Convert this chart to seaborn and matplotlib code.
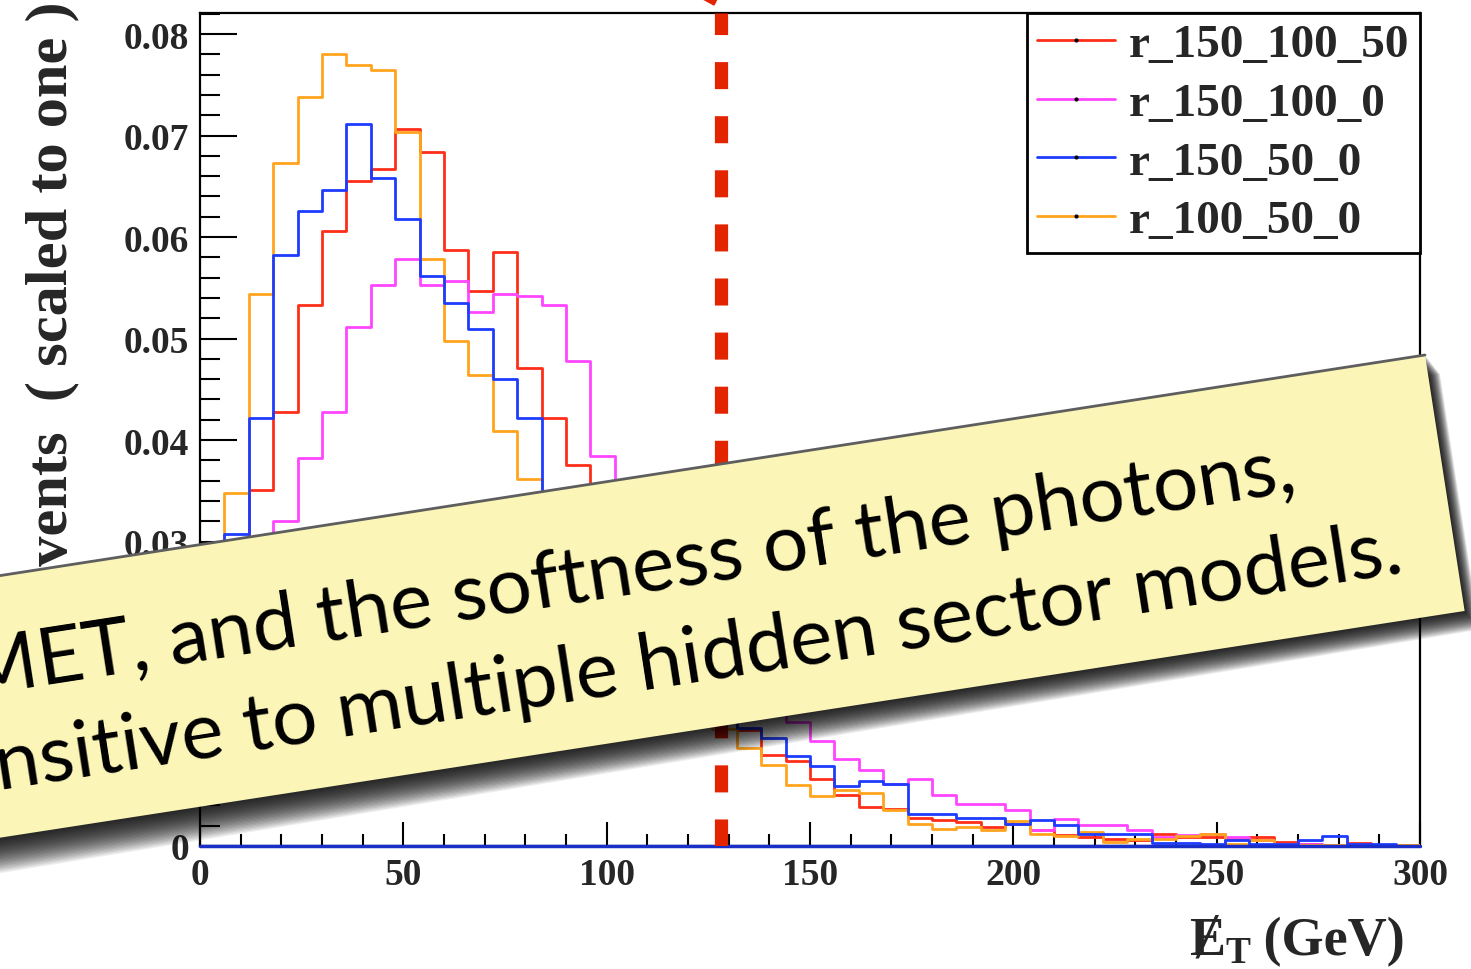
import numpy as np
import matplotlib
matplotlib.use("Agg")
import matplotlib.pyplot as plt
import seaborn as sns
from matplotlib.patches import Polygon
from matplotlib.lines import Line2D
from matplotlib.ticker import MultipleLocator, FuncFormatter

# MET histograms, 6 GeV bins from 0 to 300 GeV, normalised to one
bin_edges = list(range(0, 301, 6))

r_150_100_50 = [0.006, 0.022, 0.0351, 0.0428, 0.0533, 0.0606, 0.0655, 0.0667, 0.0706, 0.0684,
                0.0587, 0.0547, 0.0585, 0.0471, 0.0422, 0.0375, 0.032, 0.027, 0.023, 0.020,
                0.017, 0.014, 0.0114, 0.0090, 0.0084, 0.0066, 0.0050, 0.0038, 0.0036, 0.0028,
                0.0026, 0.0024, 0.0019, 0.0022, 0.0016, 0.0011, 0.0009, 0.0007, 0.0006, 0.0012,
                0.0009, 0.0009, 0.0007, 0.0009, 0.0004, 0.0002, 0.0001, 0.0003, 0.0, 0.0001]
r_150_100_0 = [0.005, 0.014, 0.024, 0.0320, 0.0382, 0.0428, 0.0511, 0.0553, 0.0578, 0.0553,
               0.0557, 0.0526, 0.0544, 0.0542, 0.0533, 0.0478, 0.0384, 0.033, 0.029, 0.025,
               0.021, 0.018, 0.015, 0.0135, 0.0122, 0.0103, 0.0086, 0.0075, 0.0061, 0.0066,
               0.0050, 0.0041, 0.0041, 0.0035, 0.0016, 0.0027, 0.0021, 0.0021, 0.0016, 0.0009,
               0.0011, 0.0012, 0.0009, 0.0006, 0.0002, 0.0002, 0.0001, 0.0001, 0.0, 0.0]
r_150_50_0 = [0.008, 0.0307, 0.0422, 0.0582, 0.0626, 0.0646, 0.0711, 0.0658, 0.0618, 0.0562,
              0.0535, 0.0509, 0.0460, 0.0422, 0.034, 0.030, 0.026, 0.022, 0.019, 0.017,
              0.015, 0.013, 0.0116, 0.0106, 0.0089, 0.0079, 0.0059, 0.0064, 0.0061, 0.0032,
              0.0032, 0.0028, 0.0028, 0.0022, 0.0026, 0.0021, 0.0012, 0.0012, 0.0012, 0.0003,
              0.0003, 0.0002, 0.0006, 0.0002, 0.0002, 0.0006, 0.0010, 0.0002, 0.0002, 0.0]
r_100_50_0 = [0.010, 0.0348, 0.0544, 0.0673, 0.0738, 0.0780, 0.0769, 0.0765, 0.0703, 0.0578,
              0.0498, 0.0464, 0.0409, 0.0362, 0.031, 0.027, 0.024, 0.020, 0.017, 0.015,
              0.013, 0.0115, 0.0097, 0.0080, 0.0060, 0.0049, 0.0055, 0.0052, 0.0035, 0.0022,
              0.0017, 0.0019, 0.0016, 0.0025, 0.0012, 0.0010, 0.0014, 0.0004, 0.0007, 0.0007,
              0.0010, 0.0012, 0.0002, 0.0006, 0.0002, 0.0001, 0.0001, 0.0001, 0.0, 0.00005]

series_names = ["r_150_100_50", "r_150_100_0", "r_150_50_0", "r_100_50_0"]
series_values = [r_150_100_50, r_150_100_0, r_150_50_0, r_100_50_0]
series_colors = ["#ff2e18", "#ff45ff", "#1d3cff", "#ffa41c"]

met_cut = 128
x_label = " (GeV)"
y_label = "Events  ( scaled to one )"
caption_lines = ["MET, and the softness of the photons,",
                 "nsitive to multiple hidden sector models."]

W, H = 1471, 970

sns.set_style("ticks")
plt.rcParams["font.family"] = ["Liberation Serif", "DejaVu Serif"]
plt.rcParams["font.weight"] = "bold"

fig = plt.figure(figsize=(W / 100, H / 100), dpi=100)
fig.patch.set_facecolor("white")
ax = fig.add_axes([200 / W, 1 - 847 / H, 1220 / W, 833 / H])
ax.set_facecolor("white")

centers = [(a + b) / 2 for a, b in zip(bin_edges[:-1], bin_edges[1:])]
# blue is drawn last so it sits on top, like in the original canvas
for i in [0, 1, 3, 2]:
    sns.histplot(x=centers, weights=series_values[i], bins=bin_edges, element="step",
                 fill=False, color=series_colors[i], linewidth=2, ax=ax, zorder=3)

ax.axhline(0, color="#1a2fc8", lw=2.5, clip_on=False, zorder=4)
ax.axvline(met_cut, color="#e32400", lw=9.5, dashes=(2.05, 2.05), zorder=5)

ax.set_xlim(0, 300)
ax.set_ylim(0, 0.08207)
ax.set_xlabel("")
ax.set_ylabel("")

for side in ["top", "bottom", "left", "right"]:
    ax.spines[side].set_visible(True)
    ax.spines[side].set_linewidth(1.6)
    ax.spines[side].set_color("black")

ax.xaxis.set_major_locator(MultipleLocator(50))
ax.xaxis.set_minor_locator(MultipleLocator(10))
ax.yaxis.set_major_locator(MultipleLocator(0.01))
ax.yaxis.set_minor_locator(MultipleLocator(0.002))
ax.yaxis.set_major_formatter(FuncFormatter(lambda v, p: "0" if abs(v) < 1e-9 else f"{v:.2f}"))
ax.xaxis.set_major_formatter(FuncFormatter(lambda v, p: f"{v:.0f}"))

ax.tick_params(axis="both", which="both", direction="in", width=1.5, color="black",
               top=False, right=False)
ax.tick_params(axis="y", which="major", length=26.5, pad=8)
ax.tick_params(axis="y", which="minor", length=14.5)
ax.tick_params(axis="x", which="major", length=17, pad=8)
ax.tick_params(axis="x", which="minor", length=9)
for lab in ax.get_xticklabels() + ax.get_yticklabels():
    lab.set_fontsize(27)
    lab.set_fontweight("bold")

handles = [Line2D([], [], color=c, lw=2, marker="o", markersize=2,
                  markerfacecolor="black", markeredgecolor="black") for c in series_colors]
leg = ax.legend(handles, series_names, loc="upper right", bbox_to_anchor=(1, 1),
                borderaxespad=0, frameon=True, fancybox=False, framealpha=1,
                edgecolor="black", handlelength=1.65, handletextpad=0.3,
                borderpad=0.22, labelspacing=0.33, numpoints=1,
                prop={"family": "Liberation Serif", "weight": "bold", "size": 34})
leg.get_frame().set_linewidth(2)
leg.set_zorder(10)

# axis titles, ROOT style
fig.text(66 / W, 1 - 1 / H, y_label, rotation=90, rotation_mode="anchor",
         ha="right", va="baseline", fontsize=43.5, fontweight="bold", zorder=3)

renderer = fig.canvas.get_renderer()
def width_px(s, **kw):
    t = fig.text(0, 0, s, **kw)
    w = t.get_window_extent(renderer=renderer).width
    t.remove()
    return w

xl_kw = dict(fontsize=39, fontweight="bold", family=["Liberation Serif", "DejaVu Serif"])
sub_kw = dict(fontsize=27, fontweight="bold", family=["Liberation Serif", "DejaVu Serif"])
x_right, x_base = 1405, 955
fig.text(x_right / W, 1 - x_base / H, x_label, ha="right", va="baseline", **xl_kw)
x_right -= width_px(x_label, **xl_kw)
fig.text(x_right / W, 1 - (x_base + 8) / H, "T", ha="right", va="baseline", **sub_kw)
x_right -= width_px("T", **sub_kw)
fig.text(x_right / W, 1 - x_base / H, "\u0246", ha="right", va="baseline", **xl_kw)

# tip of the red arrow that comes in from above the slide
fig.add_artist(Polygon([(703 / W, 1.0), (717 / W, 1.0), (714 / W, 1 - 6 / H)],
                       closed=True, transform=fig.transFigure, color="#e32400", zorder=6))

# yellow slide banner laid over the plot
theta = np.deg2rad(8.8)
u = np.array([np.cos(theta), -np.sin(theta)])
n = np.array([np.sin(theta), np.cos(theta)])
tr = np.array([1425.0, 356.0])
tl = tr - 1800.0 * u
br = tr + 259.0 * n
bl = tl + 259.0 * n

def to_fig(pts):
    return [(p[0] / W, 1 - p[1] / H) for p in pts]

for i in range(1, 26):
    d = 1.5 * i
    off_l = d * np.array([0.2, 1.0])
    off_r = 0.5 * d * np.array([0.8, 1.0])
    fig.add_artist(Polygon(to_fig([tl + off_l, tr + off_r, br + off_r, bl + off_l]),
                           closed=True, transform=fig.transFigure, facecolor="black",
                           edgecolor="none", alpha=0.065, zorder=20))

fig.add_artist(Polygon(to_fig([tl, tr, br, bl]), closed=True, transform=fig.transFigure,
                       facecolor="#fbf6b7", edgecolor="none", zorder=21))
edge = to_fig([tl, tr])
fig.add_artist(Line2D([edge[0][0], edge[1][0]], [edge[0][1], edge[1][1]],
                      transform=fig.transFigure, color="#5e5e5e", lw=2, zorder=22))

cap_kw = dict(family="Lato", fontweight="normal")
cap_size = 10 * 1427 / width_px(caption_lines[1], fontsize=10, **cap_kw)
for line, (px, py) in zip(caption_lines, [(1298, 491), (1405, 572)]):
    fig.text(px / W, 1 - py / H, line, rotation=8.8, rotation_mode="anchor",
             ha="right", va="baseline", fontsize=cap_size, color="black",
             zorder=23, **cap_kw)

fig.savefig("out.png", dpi=100)
